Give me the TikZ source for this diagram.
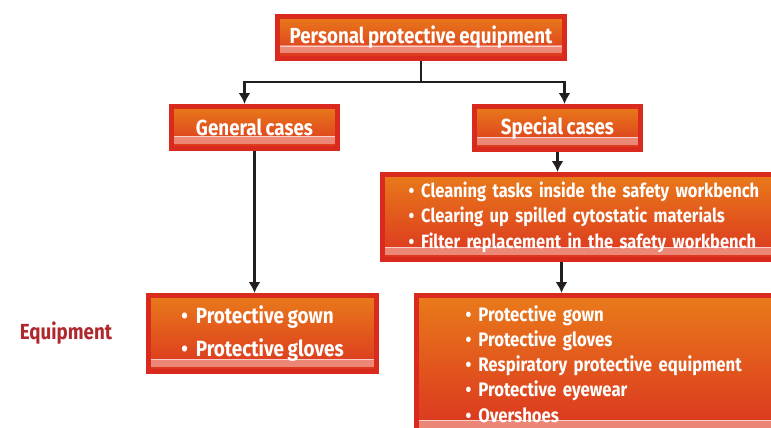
\documentclass[tikz,border=0pt]{standalone}
\usepackage{fontspec}
\setmainfont{Fira Sans}[FakeStretch=0.86, WordSpace=0.8]
\usetikzlibrary{arrows.meta,calc}

\definecolor{boxtop}{HTML}{E97A1A}
\definecolor{boxbottom}{HTML}{DB3520}
\definecolor{boxline}{HTML}{DA2A1E}
\definecolor{boxband}{HTML}{F2A094}
\definecolor{labelred}{HTML}{B0282E}
\definecolor{connline}{HTML}{231F20}

\tikzset{
  ppebox/.style={draw=boxline, line width=5pt, top color=boxtop, bottom color=boxbottom,
    text=white, font=\bfseries, inner sep=0pt,
    path picture={
      \fill[boxband, opacity=0.75] ($(path picture bounding box.south west)+(0,5pt)$) rectangle ($(path picture bounding box.south east)+(0,13pt)$);
      \draw[white, opacity=0.6, line width=0.8pt] ($(path picture bounding box.south west)+(0,12pt)$) -- ($(path picture bounding box.south east)+(0,12pt)$);
    }},
  conn/.style={draw=connline, line width=2.2pt},
  arrow/.style={conn, -{Latex[length=11pt,width=12pt]}}
}

\begin{document}
\begin{tikzpicture}[x=1pt,y=-1pt]
  \clip (0,0) rectangle (771,428);
  \fill[white] (0,0) rectangle (771,428);

  % top level
  \node[ppebox, anchor=north west, minimum width=287pt, minimum height=42pt, font=\bfseries\fontsize{21.8}{24}\selectfont] (ppe) at (275,14) {Personal protective equipment};

  % cases
  \node[ppebox, anchor=north west, minimum width=166pt, minimum height=42pt, font=\bfseries\fontsize{21.8}{24}\selectfont] (general) at (169,104) {General cases};
  \node[ppebox, anchor=north west, minimum width=166pt, minimum height=43pt, font=\bfseries\fontsize{21.8}{24}\selectfont] (special) at (472,104) {Special cases};

  \node[ppebox, anchor=north west, minimum height=85pt, text width=370pt, inner xsep=26pt, align=left, font=\bfseries\fontsize{19.2}{25.5}\selectfont] (tasks) at (380,172)
    {\textbullet\hspace{7pt}Cleaning tasks inside the safety workbench\\
     \textbullet\hspace{7pt}Clearing up spilled cytostatic materials\\
     \textbullet\hspace{7pt}Filter replacement in the safety workbench};

  % equipment
  \node[text=labelred, font=\bfseries\fontsize{21.8}{24}\selectfont] (label) at (66,333) {Equipment};

  \node[ppebox, anchor=north west, minimum width=228pt, minimum height=76pt, align=left, font=\bfseries\fontsize{22}{33}\selectfont] (generalkit) at (146,293)
    {\textbullet\hspace{8pt}Protective gown\\
     \textbullet\hspace{8pt}Protective gloves};

  \node[ppebox, anchor=north west, minimum height=137pt, text width=330pt, inner xsep=49pt, align=left, font=\bfseries\fontsize{19.5}{25.2}\selectfont] (specialkit) at (414,293)
    {\textbullet\hspace{7pt}Protective gown\\
     \textbullet\hspace{7pt}Protective gloves\\
     \textbullet\hspace{7pt}Respiratory protective equipment\\
     \textbullet\hspace{7pt}Protective eyewear\\
     \textbullet\hspace{7pt}Overshoes};

  % connectors
  \coordinate (split) at (ppe.south |- 0,82);
  \draw[conn] (ppe.south) -- (split);
  \draw[arrow] (split) -| ([xshift=-10pt]general.north);
  \draw[arrow] (split) -| ([xshift=7pt]special.north);
  \draw[arrow] (special.south) -- (special.south |- tasks.north);
  \draw[arrow] (general.south) -- (general.south |- generalkit.north);
  \draw[arrow] ([xshift=4pt]special.south |- tasks.south) -- ([xshift=4pt]special.south |- specialkit.north);
\end{tikzpicture}
\end{document}
